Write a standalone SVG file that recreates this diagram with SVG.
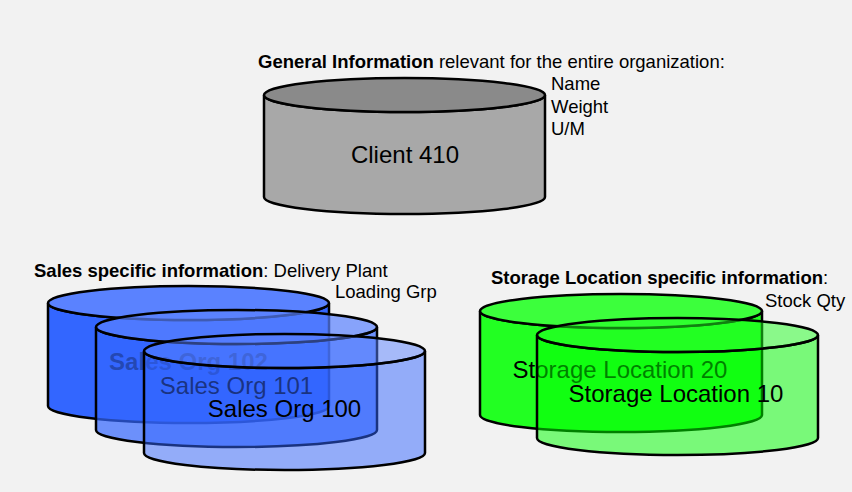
<svg xmlns="http://www.w3.org/2000/svg" width="852" height="492" viewBox="0 0 852 492">
<style>
text{font-family:"Liberation Sans",Arial,sans-serif;fill:#000}
.lbl{font-size:18.5px}
.big{font-size:24px;text-anchor:middle}
.b{font-weight:bold}
.cyl path,.cyl ellipse{stroke:#000;stroke-width:2.5}
</style>
<rect width="852" height="492" fill="#f2f2f2"/>
<g id="connectors"/>
<g id="client410" class="cyl">
<path d="M264,95 V197 A140.5,17 0 0 0 545,197 V95 A140.5,17 0 0 1 264,95 Z" fill="#a8a8a8"/>
<ellipse cx="404.5" cy="95" rx="140.5" ry="17" fill="#8a8a8a"/>
<text class="big" x="405" y="163">Client 410</text>
</g>
<g id="general-info">
<text class="lbl" x="258" y="68"><tspan class="b">General Information</tspan> relevant for the entire organization:</text>
<text class="lbl" x="551" y="90">Name</text>
<text class="lbl" x="551" y="112.5">Weight</text>
<text class="lbl" x="551" y="135">U/M</text>
</g>
<g id="sales-info">
<text class="lbl" x="34" y="277"><tspan class="b">Sales specific information</tspan>: Delivery Plant</text>
<text class="lbl" x="335" y="298">Loading Grp</text>
</g>
<g id="salesorg102" class="cyl">
<path d="M48,303 V406 A140.5,17 0 0 0 329,406 V303 A140.5,17 0 0 1 48,303 Z" fill="#3366ff"/>
<ellipse cx="188.5" cy="303" rx="140.5" ry="17" fill="#5a82ff"/>
<text class="big b" x="188.5" y="370">Sales Org 102</text>
</g>
<g id="salesorg101" class="cyl">
<path d="M96,327 V430 A140.5,17 0 0 0 377,430 V327 A140.5,17 0 0 1 96,327 Z" fill="#3366ff" fill-opacity="0.7"/>
<ellipse cx="236.5" cy="327" rx="140.5" ry="17" fill="#5a82ff" fill-opacity="0.7"/>
<text class="big" x="236.5" y="394">Sales Org 101</text>
</g>
<g id="salesorg100" class="cyl">
<path d="M144,351 V453 A140.5,17 0 0 0 425,453 V351 A140.5,17 0 0 1 144,351 Z" fill="#3366ff" fill-opacity="0.5"/>
<ellipse cx="284.5" cy="351" rx="140.5" ry="17" fill="#5a82ff" fill-opacity="0.5"/>
<text class="big" x="284.5" y="417">Sales Org 100</text>
</g>
<g id="storage-info">
<text class="lbl b" x="491" y="284">Storage Location specific information<tspan font-weight="normal">:</tspan></text>
<text class="lbl" x="765" y="307">Stock Qty</text>
</g>
<g id="storage20" class="cyl">
<path d="M480,311 V415 A141,17 0 0 0 762,415 V311 A141,17 0 0 1 480,311 Z" fill="#22ff22"/>
<ellipse cx="621" cy="311" rx="141" ry="17" fill="#3cff3c"/>
<text class="big" x="620" y="378">Storage Location 20</text>
</g>
<g id="storage10" class="cyl">
<path d="M537,335 V438 A140.5,17 0 0 0 818,438 V335 A140.5,17 0 0 1 537,335 Z" fill="#00ff00" fill-opacity="0.5"/>
<ellipse cx="677.5" cy="335" rx="140.5" ry="17" fill="#22ff22" fill-opacity="0.5"/>
<text class="big" x="676" y="402">Storage Location 10</text>
</g>
</svg>
